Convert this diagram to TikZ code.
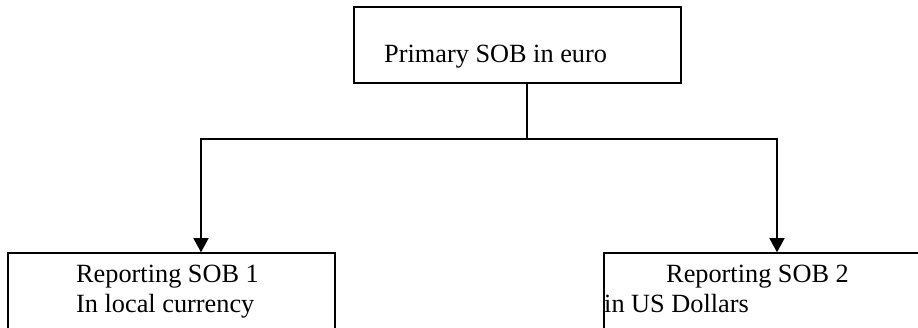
\documentclass[tikz,border=0pt]{standalone}
\usepackage{fontspec}
\setmainfont{Liberation Serif}
\usetikzlibrary{arrows.meta,positioning}

\begin{document}
\begin{tikzpicture}[x=1pt,y=-1pt]
       \tikzset{sob/.style={rectangle, draw, line width=1.5pt, inner sep=0pt, minimum width=327pt}}

       \tikzset{sobtext/.style={font=\fontsize{26.3}{30}\selectfont, inner sep=0pt, anchor=base west}}

       \tikzset{link/.style={line width=1.4pt}}

        \clip (0,0) rectangle (918,328);

        \node[sob, minimum height=76pt] (primary) at (517.5,45) {};
        \node[sob, minimum height=100pt] (rep1) at (171.5,303) {};
        \node[sob, minimum height=100pt] (rep2) at (767.5,303) {};

        \node[sobtext] (primarytxt) at (384,63) {Primary SOB in euro};
        \node[sobtext] (rep1txt) at (76,283) {Reporting SOB 1};
        \node[sobtext] (rep1cur) at (76,313) {In local currency};
        \node[sobtext] (rep2txt) at (666,283) {Reporting SOB 2};
        \node[sobtext] (rep2cur) at (604,313) {in US Dollars};

        \coordinate (split) at (527,139);
        \coordinate (turn1) at (201,139);
        \coordinate (turn2) at (777,139);

        \draw[link](primary.south -| split) -- (split);
        \draw[link,-{Triangle[width=15pt,length=14pt]}](split) -- (turn1) -- (turn1 |- rep1.north);
        \draw[link,-{Triangle[width=15pt,length=14pt]}](split) -- (turn2) -- (turn2 |- rep2.north);

   \end{tikzpicture}
\end{document}
